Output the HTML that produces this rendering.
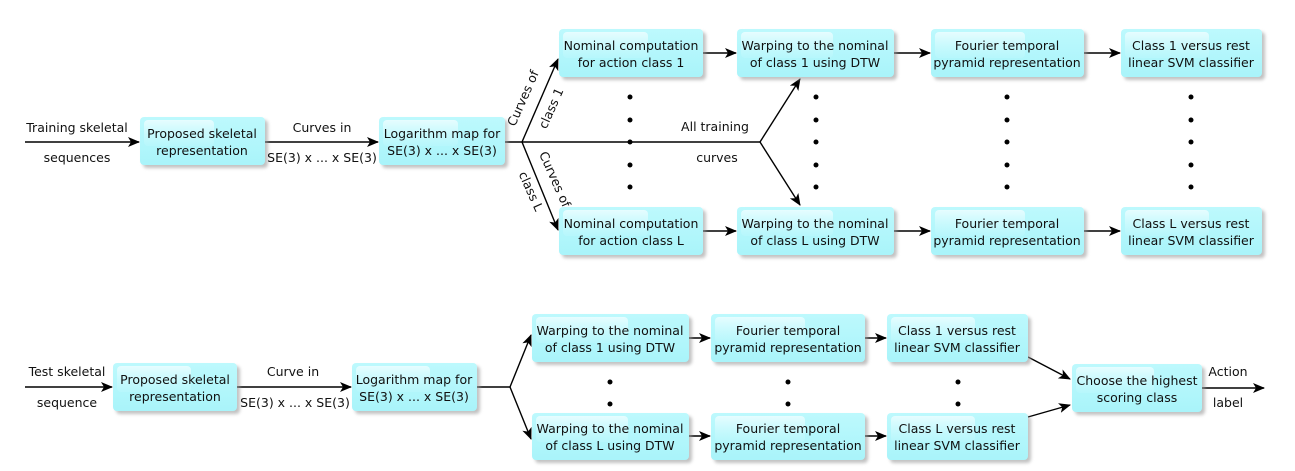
<!DOCTYPE html>
<html><head><meta charset="utf-8"><style>
html,body{margin:0;padding:0;background:#fff;}
svg{display:block;}
text{font-family:"DejaVu Sans","Liberation Sans",sans-serif;font-size:12.5px;fill:#111;}
</style></head><body>
<svg width="1295" height="471" viewBox="0 0 1295 471" xmlns="http://www.w3.org/2000/svg">
<defs>
<linearGradient id="g" x1="0" y1="0" x2="0" y2="1"><stop offset="0" stop-color="#bdf9fd"/><stop offset="1" stop-color="#a9f4fa"/></linearGradient>
<linearGradient id="h" x1="0" y1="0" x2="0" y2="1"><stop offset="0" stop-color="#e6fdff"/><stop offset="1" stop-color="#c4f9fd" stop-opacity="0.3"/></linearGradient>
<filter id="s" x="-10%" y="-20%" width="130%" height="150%"><feGaussianBlur stdDeviation="1.6"/></filter>
<marker id="a" markerWidth="12" markerHeight="10" refX="11" refY="5" orient="auto" markerUnits="userSpaceOnUse"><path d="M0,0 L12,5 L0,10 L3,5 Z" fill="#000"/></marker>
</defs>
<g stroke="#000" stroke-width="1.4" fill="none">
<line x1="25" y1="142" x2="139" y2="142" marker-end="url(#a)"/>
<line x1="265" y1="142" x2="378" y2="142" marker-end="url(#a)"/>
<line x1="505" y1="142" x2="760" y2="142"/>
<line x1="522" y1="142" x2="558" y2="59" marker-end="url(#a)"/>
<line x1="522" y1="142" x2="558" y2="230" marker-end="url(#a)"/>
<line x1="760" y1="142" x2="800" y2="79" marker-end="url(#a)"/>
<line x1="760" y1="142" x2="800" y2="205" marker-end="url(#a)"/>
<line x1="703" y1="53" x2="736" y2="53" marker-end="url(#a)"/>
<line x1="894" y1="53" x2="930" y2="53" marker-end="url(#a)"/>
<line x1="1084" y1="53" x2="1120" y2="53" marker-end="url(#a)"/>
<line x1="703" y1="231" x2="736" y2="231" marker-end="url(#a)"/>
<line x1="894" y1="231" x2="930" y2="231" marker-end="url(#a)"/>
<line x1="1084" y1="231" x2="1120" y2="231" marker-end="url(#a)"/>
<line x1="25" y1="387" x2="112" y2="387" marker-end="url(#a)"/>
<line x1="237" y1="387" x2="351" y2="387" marker-end="url(#a)"/>
<line x1="477" y1="387" x2="510" y2="387"/>
<line x1="510" y1="387" x2="531" y2="335" marker-end="url(#a)"/>
<line x1="510" y1="387" x2="531" y2="439" marker-end="url(#a)"/>
<line x1="689" y1="338" x2="710" y2="338" marker-end="url(#a)"/>
<line x1="865" y1="338" x2="886" y2="338" marker-end="url(#a)"/>
<line x1="689" y1="436" x2="710" y2="436" marker-end="url(#a)"/>
<line x1="865" y1="436" x2="886" y2="436" marker-end="url(#a)"/>
<line x1="1028" y1="357" x2="1070" y2="379" marker-end="url(#a)"/>
<line x1="1028" y1="417" x2="1070" y2="405" marker-end="url(#a)"/>
<line x1="1202" y1="388" x2="1264" y2="388" marker-end="url(#a)"/>
</g>
<g fill="#000">
<circle cx="630" cy="97" r="2.5"/><circle cx="630" cy="120" r="2.5"/><circle cx="630" cy="142" r="2.5"/><circle cx="630" cy="165" r="2.5"/><circle cx="630" cy="187" r="2.5"/>
<circle cx="816" cy="97" r="2.5"/><circle cx="816" cy="120" r="2.5"/><circle cx="816" cy="142" r="2.5"/><circle cx="816" cy="165" r="2.5"/><circle cx="816" cy="187" r="2.5"/>
<circle cx="1007" cy="97" r="2.5"/><circle cx="1007" cy="120" r="2.5"/><circle cx="1007" cy="142" r="2.5"/><circle cx="1007" cy="165" r="2.5"/><circle cx="1007" cy="187" r="2.5"/>
<circle cx="1191" cy="97" r="2.5"/><circle cx="1191" cy="120" r="2.5"/><circle cx="1191" cy="142" r="2.5"/><circle cx="1191" cy="165" r="2.5"/><circle cx="1191" cy="187" r="2.5"/>
<circle cx="610" cy="382" r="2.5"/><circle cx="610" cy="404" r="2.5"/>
<circle cx="788" cy="382" r="2.5"/><circle cx="788" cy="404" r="2.5"/>
<circle cx="958" cy="382" r="2.5"/><circle cx="958" cy="404" r="2.5"/>
</g>
<g>
<rect x="143" y="120" width="125" height="48" rx="4" fill="#999" opacity="0.6" filter="url(#s)"/>
<rect x="140" y="117" width="125" height="48" rx="4" fill="url(#g)"/>
<rect x="144" y="120" width="70" height="26" rx="4" fill="url(#h)"/>
<rect x="382" y="120" width="126" height="48" rx="4" fill="#999" opacity="0.6" filter="url(#s)"/>
<rect x="379" y="117" width="126" height="48" rx="4" fill="url(#g)"/>
<rect x="383" y="120" width="75" height="26" rx="4" fill="url(#h)"/>
<rect x="562" y="32" width="144" height="48" rx="4" fill="#999" opacity="0.6" filter="url(#s)"/>
<rect x="559" y="29" width="144" height="48" rx="4" fill="url(#g)"/>
<rect x="563" y="32" width="85" height="26" rx="4" fill="url(#h)"/>
<rect x="740" y="32" width="157" height="48" rx="4" fill="#999" opacity="0.6" filter="url(#s)"/>
<rect x="737" y="29" width="157" height="48" rx="4" fill="url(#g)"/>
<rect x="741" y="32" width="92" height="26" rx="4" fill="url(#h)"/>
<rect x="934" y="32" width="153" height="48" rx="4" fill="#999" opacity="0.6" filter="url(#s)"/>
<rect x="931" y="29" width="153" height="48" rx="4" fill="url(#g)"/>
<rect x="935" y="32" width="90" height="26" rx="4" fill="url(#h)"/>
<rect x="1124" y="32" width="141" height="48" rx="4" fill="#999" opacity="0.6" filter="url(#s)"/>
<rect x="1121" y="29" width="141" height="48" rx="4" fill="url(#g)"/>
<rect x="1125" y="32" width="84" height="26" rx="4" fill="url(#h)"/>
<rect x="562" y="210" width="144" height="48" rx="4" fill="#999" opacity="0.6" filter="url(#s)"/>
<rect x="559" y="207" width="144" height="48" rx="4" fill="url(#g)"/>
<rect x="563" y="210" width="85" height="26" rx="4" fill="url(#h)"/>
<rect x="740" y="210" width="157" height="48" rx="4" fill="#999" opacity="0.6" filter="url(#s)"/>
<rect x="737" y="207" width="157" height="48" rx="4" fill="url(#g)"/>
<rect x="741" y="210" width="92" height="26" rx="4" fill="url(#h)"/>
<rect x="934" y="210" width="153" height="48" rx="4" fill="#999" opacity="0.6" filter="url(#s)"/>
<rect x="931" y="207" width="153" height="48" rx="4" fill="url(#g)"/>
<rect x="935" y="210" width="90" height="26" rx="4" fill="url(#h)"/>
<rect x="1124" y="210" width="141" height="48" rx="4" fill="#999" opacity="0.6" filter="url(#s)"/>
<rect x="1121" y="207" width="141" height="48" rx="4" fill="url(#g)"/>
<rect x="1125" y="210" width="84" height="26" rx="4" fill="url(#h)"/>
<rect x="116" y="366" width="124" height="48" rx="4" fill="#999" opacity="0.6" filter="url(#s)"/>
<rect x="113" y="363" width="124" height="48" rx="4" fill="url(#g)"/>
<rect x="117" y="366" width="74" height="26" rx="4" fill="url(#h)"/>
<rect x="355" y="366" width="125" height="48" rx="4" fill="#999" opacity="0.6" filter="url(#s)"/>
<rect x="352" y="363" width="125" height="48" rx="4" fill="url(#g)"/>
<rect x="356" y="366" width="74" height="26" rx="4" fill="url(#h)"/>
<rect x="535" y="317" width="157" height="48" rx="4" fill="#999" opacity="0.6" filter="url(#s)"/>
<rect x="532" y="314" width="157" height="48" rx="4" fill="url(#g)"/>
<rect x="536" y="317" width="92" height="26" rx="4" fill="url(#h)"/>
<rect x="714" y="317" width="154" height="48" rx="4" fill="#999" opacity="0.6" filter="url(#s)"/>
<rect x="711" y="314" width="154" height="48" rx="4" fill="url(#g)"/>
<rect x="715" y="317" width="90" height="26" rx="4" fill="url(#h)"/>
<rect x="890" y="317" width="141" height="48" rx="4" fill="#999" opacity="0.6" filter="url(#s)"/>
<rect x="887" y="314" width="141" height="48" rx="4" fill="url(#g)"/>
<rect x="891" y="317" width="84" height="26" rx="4" fill="url(#h)"/>
<rect x="535" y="416" width="157" height="47" rx="4" fill="#999" opacity="0.6" filter="url(#s)"/>
<rect x="532" y="413" width="157" height="47" rx="4" fill="url(#g)"/>
<rect x="536" y="416" width="92" height="26" rx="4" fill="url(#h)"/>
<rect x="714" y="416" width="154" height="47" rx="4" fill="#999" opacity="0.6" filter="url(#s)"/>
<rect x="711" y="413" width="154" height="47" rx="4" fill="url(#g)"/>
<rect x="715" y="416" width="90" height="26" rx="4" fill="url(#h)"/>
<rect x="890" y="416" width="141" height="47" rx="4" fill="#999" opacity="0.6" filter="url(#s)"/>
<rect x="887" y="413" width="141" height="47" rx="4" fill="url(#g)"/>
<rect x="891" y="416" width="84" height="26" rx="4" fill="url(#h)"/>
<rect x="1075" y="367" width="130" height="48" rx="4" fill="#999" opacity="0.6" filter="url(#s)"/>
<rect x="1072" y="364" width="130" height="48" rx="4" fill="url(#g)"/>
<rect x="1076" y="367" width="78" height="26" rx="4" fill="url(#h)"/>
</g>
<g text-anchor="middle">
<text x="77" y="132">Training skeletal</text>
<text x="77" y="162">sequences</text>
<text x="202" y="138">Proposed skeletal</text>
<text x="202" y="155">representation</text>
<text x="322" y="132">Curves in</text>
<text x="322" y="162">SE(3) x ... x SE(3)</text>
<text x="442" y="138">Logarithm map for</text>
<text x="442" y="155">SE(3) x ... x SE(3)</text>
<text x="715" y="131">All training</text>
<text x="717" y="162">curves</text>
<text transform="translate(527,100) rotate(-66)">Curves of</text>
<text transform="translate(555,110) rotate(-66)">class 1</text>
<text transform="translate(551,181) rotate(66)">Curves of</text>
<text transform="translate(527,193) rotate(66)">class L</text>
<text x="631" y="50">Nominal computation</text>
<text x="631" y="67">for action class 1</text>
<text x="815" y="50">Warping to the nominal</text>
<text x="815" y="67">of class 1 using DTW</text>
<text x="1007" y="50">Fourier temporal</text>
<text x="1007" y="67">pyramid representation</text>
<text x="1191" y="50">Class 1 versus rest</text>
<text x="1191" y="67">linear SVM classifier</text>
<text x="631" y="228">Nominal computation</text>
<text x="631" y="245">for action class L</text>
<text x="815" y="228">Warping to the nominal</text>
<text x="815" y="245">of class L using DTW</text>
<text x="1007" y="228">Fourier temporal</text>
<text x="1007" y="245">pyramid representation</text>
<text x="1191" y="228">Class L versus rest</text>
<text x="1191" y="245">linear SVM classifier</text>
<text x="67" y="376">Test skeletal</text>
<text x="67" y="407">sequence</text>
<text x="175" y="384">Proposed skeletal</text>
<text x="175" y="401">representation</text>
<text x="293" y="376">Curve in</text>
<text x="295" y="407">SE(3) x ... x SE(3)</text>
<text x="414" y="384">Logarithm map for</text>
<text x="414" y="401">SE(3) x ... x SE(3)</text>
<text x="610" y="335">Warping to the nominal</text>
<text x="610" y="352">of class 1 using DTW</text>
<text x="788" y="335">Fourier temporal</text>
<text x="788" y="352">pyramid representation</text>
<text x="957" y="335">Class 1 versus rest</text>
<text x="957" y="352">linear SVM classifier</text>
<text x="610" y="433">Warping to the nominal</text>
<text x="610" y="450">of class L using DTW</text>
<text x="788" y="433">Fourier temporal</text>
<text x="788" y="450">pyramid representation</text>
<text x="957" y="433">Class L versus rest</text>
<text x="957" y="450">linear SVM classifier</text>
<text x="1137" y="385">Choose the highest</text>
<text x="1137" y="402">scoring class</text>
<text x="1228" y="376">Action</text>
<text x="1228" y="407">label</text>
</g>
</svg>
</body></html>
